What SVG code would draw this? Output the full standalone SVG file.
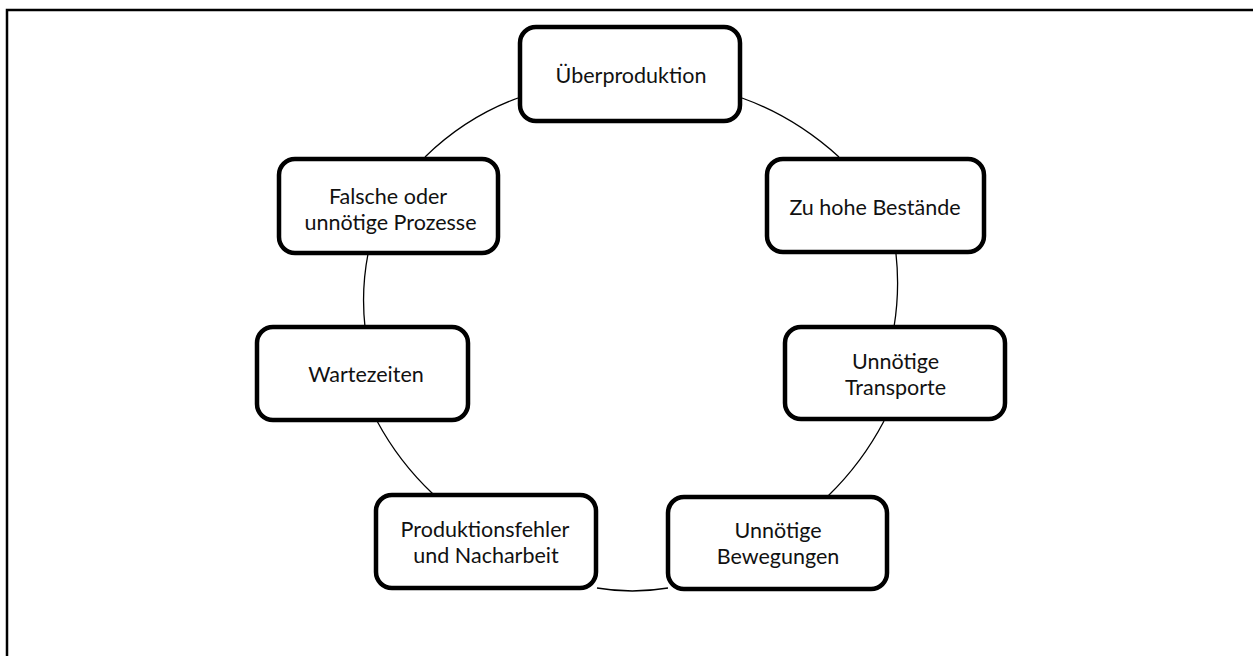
<svg xmlns="http://www.w3.org/2000/svg" width="1253" height="656" viewBox="0 0 1253 656">
<style>
.frame{fill:none;stroke:#000;stroke-width:2.5}
.arc{fill:none;stroke:#000;stroke-width:1.3}
.box{fill:#fff;stroke:#000;stroke-width:4.5}
.lbl{font-family:Lato,"Liberation Sans",sans-serif;font-size:21.5px;fill:#111;text-anchor:middle}
</style>
<rect width="1253" height="656" fill="#fff"/>
<path class="frame" d="M7,656 V10 H1253"/>
<g id="connectors">
<path class="arc" d="M742,98 Q795,117 839,157"/>
<path class="arc" d="M896,254 Q900,290 894,327"/>
<path class="arc" d="M884,421 Q862,463 828,496"/>
<path class="arc" d="M668,588 Q632,594 597,588"/>
<path class="arc" d="M433,494 Q399,462 377,421"/>
<path class="arc" d="M365,327 Q361,290 368,254"/>
<path class="arc" d="M425,157 Q466,117 518,98"/>
</g>
<g id="n1"><rect class="box" x="520" y="27" width="220" height="94" rx="16"/><text class="lbl" x="631" y="83">Überproduktion</text></g>
<g id="n2"><rect class="box" x="767" y="159" width="217" height="93" rx="16"/><text class="lbl" x="875" y="215">Zu hohe Bestände</text></g>
<g id="n3"><rect class="box" x="785" y="327" width="220" height="92" rx="16"/><text class="lbl" x="895.5" y="369">Unnötige</text><text class="lbl" x="895.5" y="395">Transporte</text></g>
<g id="n4"><rect class="box" x="668" y="497" width="219" height="92" rx="16"/><text class="lbl" x="778" y="537.5">Unnötige</text><text class="lbl" x="778" y="563.5">Bewegungen</text></g>
<g id="n5"><rect class="box" x="376" y="495" width="220" height="93" rx="16"/><text class="lbl" x="485" y="536.5">Produktionsfehler</text><text class="lbl" x="486" y="562.5">und Nacharbeit</text></g>
<g id="n6"><rect class="box" x="257" y="327" width="211" height="93" rx="16"/><text class="lbl" x="366" y="382">Wartezeiten</text></g>
<g id="n7"><rect class="box" x="279" y="159" width="219" height="94" rx="16"/><text class="lbl" x="388" y="203.5">Falsche oder</text><text class="lbl" x="390.5" y="229.5">unnötige Prozesse</text></g>
</svg>
